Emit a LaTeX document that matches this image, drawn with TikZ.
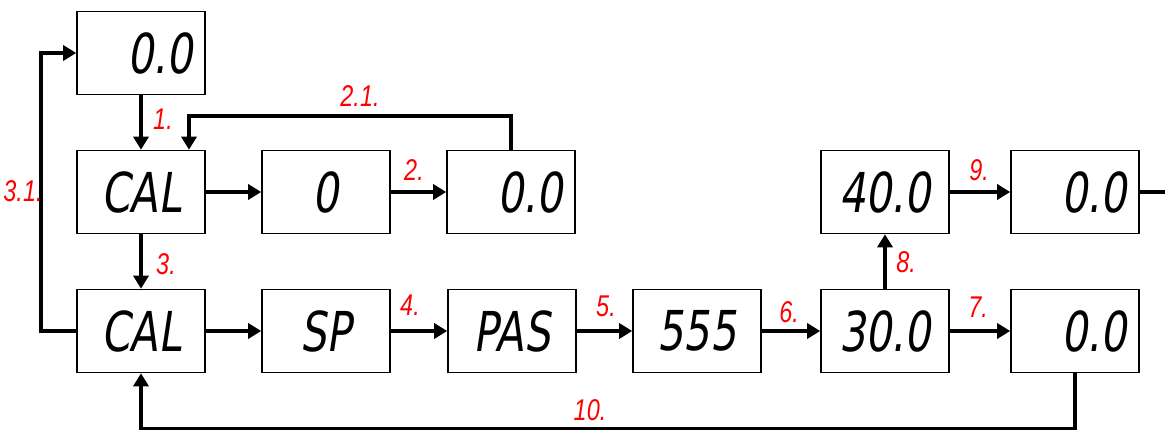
\documentclass[tikz,border=0pt]{standalone}
\usepackage{fontspec}
\usetikzlibrary{arrows.meta}
\newfontfamily\segfont{DejaVu Sans}[FakeStretch=0.75,FakeSlant=0.15]
\newfontfamily\labfont{Liberation Sans}[FakeStretch=0.78]
\begin{document}
\begin{tikzpicture}[x=1pt,y=-1pt,
  seg/.style={draw, line width=1.6pt, minimum width=128pt, minimum height=83pt, inner sep=0pt,
    font=\segfont\fontsize{55}{55}\selectfont},
  segr/.style={seg, text width=104pt, align=right},
  arr/.style={line width=4pt, -{Triangle[length=13pt,width=15pt]}},
  ln/.style={line width=4pt},
  lab/.style={text=red, inner sep=0pt, font=\labfont\itshape\fontsize{30}{30}\selectfont}]
\useasboundingbox (0,0) rectangle (1165,430);
% boxes
\node[segr] (A) at (141,53) {0.0};
\node[seg] (C1) at (141,192) {CAL};
\node[seg] (Z) at (326,192) {0};
\node[segr] (M) at (511,192) {0.0};
\node[seg] (C2) at (141,331) {CAL};
\node[seg] (SP) at (326,331) {SP};
\node[seg] (PAS) at (512,331) {PAS};
\node[seg] (S5) at (697,331) {555};
\node[seg] (T30) at (885,331) {30.0};
\node[seg] (F40) at (885,192) {40.0};
\node[segr] (RT) at (1075,192) {0.0};
\node[segr] (RB) at (1075,331) {0.0};
\coordinate (edge) at (1165,192);
% connectors
\draw[arr] (A) -- (C1);
\draw[arr] (C1) -- (Z);
\draw[arr] (Z) -- (M);
\draw[arr] (M.north) -- ++(0,-34) -| ([xshift=48pt]C1.north);
\draw[arr] (C1) -- (C2);
\draw[arr] (C2.west) -- ++(-35,0) |- (A.west);
\draw[arr] (C2) -- (SP);
\draw[arr] (SP) -- (PAS);
\draw[arr] (PAS) -- (S5);
\draw[arr] (S5) -- (T30);
\draw[arr] (T30) -- (RB);
\draw[arr] (T30) -- (F40);
\draw[arr] (F40) -- (RT);
\draw[ln] (RT.east) -- (edge);
\draw[arr] (RB.south) -- ++(0,56) -| (C2.south);
% labels
\node[lab] (l1) at (163,119) {1.};
\node[lab] (l21) at (360,96) {2.1.};
\node[lab] (l2) at (414,170) {2.};
\node[lab] (l3) at (166,264) {3.};
\node[lab] (l31) at (23,191) {3.1.};
\node[lab] (l4) at (410,305) {4.};
\node[lab] (l5) at (606,306) {5.};
\node[lab] (l6) at (789,312) {6.};
\node[lab] (l7) at (978,307) {7.};
\node[lab] (l8) at (906,262) {8.};
\node[lab] (l9) at (979,170) {9.};
\node[lab] (l10) at (590,410) {10.};
\end{tikzpicture}
\end{document}
